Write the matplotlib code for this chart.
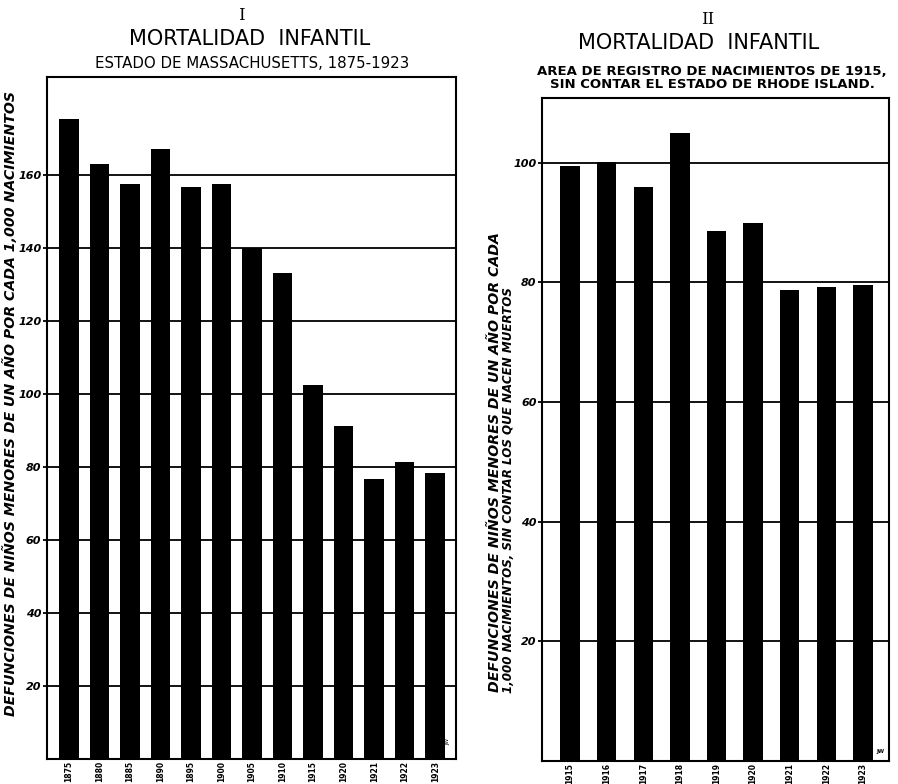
import matplotlib
matplotlib.use("Agg")
import matplotlib.pyplot as plt

# Panel I data
years_ma = ["1875", "1880", "1885", "1890", "1895", "1900", "1905",
            "1910", "1915", "1920", "1921", "1922", "1923"]
rates_ma = [175.3, 163.0, 157.5, 167.1, 156.6, 157.5, 140.0,
            133.2, 102.4, 91.2, 76.6, 81.3, 78.2]
yticks_ma = [20, 40, 60, 80, 100, 120, 140, 160]

# Panel II data
years_reg = ["1915", "1916", "1917", "1918", "1919", "1920", "1921", "1922", "1923"]
rates_reg = [99.4, 100.1, 96.0, 105.0, 88.6, 89.9, 78.7, 79.3, 79.5]
yticks_reg = [20, 40, 60, 80, 100]

plt.rcParams['font.family'] = ['DejaVu Sans']

fig = plt.figure(figsize=(8.98, 7.84), dpi=100)
ax1 = fig.add_axes([0.0523, 0.0319, 0.4555, 0.870])
ax2 = fig.add_axes([0.6039, 0.0297, 0.3864, 0.845])


def style(ax, years, rates, yticks, width, xlim, ylim):
    x = list(range(len(years)))
    ax.bar(x, rates, width=width, color='black', zorder=3)
    ax.set_xlim(*xlim)
    ax.set_ylim(*ylim)
    ax.set_yticks(yticks)
    ax.set_yticklabels([str(v) for v in yticks], fontsize=8, style='italic',
                       fontweight='bold')
    ax.set_xticks(x)
    ax.set_xticklabels(years, rotation=90, fontsize=5.5, fontweight='bold')
    ax.tick_params(axis='x', length=0, pad=1.5)
    ax.tick_params(axis='y', length=3, width=1.3, direction='out', pad=1)
    ax.yaxis.grid(True, color='black', linewidth=1.3, zorder=1)
    ax.set_axisbelow(True)
    for s in ax.spines.values():
        s.set_linewidth(1.5)
        s.set_color('black')


style(ax1, years_ma, rates_ma, yticks_ma, 0.64, (-0.72, 12.68), (0, 186.8))
style(ax2, years_reg, rates_reg, yticks_reg, 0.53, (-0.755, 8.717), (0, 110.8))

# Titles panel I
fig.text(241 / 898, 1 - 16 / 784, "I", ha='center', va='center', fontsize=12,
         family='DejaVu Serif')
fig.text(250 / 898, 1 - 39 / 784, "MORTALIDAD  INFANTIL", ha='center', va='center',
         fontsize=15)
fig.text(252 / 898, 1 - 63 / 784, "ESTADO DE MASSACHUSETTS, 1875-1923", ha='center',
         va='center', fontsize=10.8)

# Titles panel II
fig.text(708 / 898, 1 - 20 / 784, "II", ha='center', va='center', fontsize=12,
         family='DejaVu Serif')
fig.text(699 / 898, 1 - 43 / 784, "MORTALIDAD  INFANTIL", ha='center', va='center',
         fontsize=15)
fig.text(712 / 898, 1 - 78 / 784,
         "AREA DE REGISTRO DE NACIMIENTOS DE 1915,\nSIN CONTAR EL ESTADO DE RHODE ISLAND.",
         ha='center', va='center', fontsize=9.5, fontweight='bold', linespacing=1.0)

# Y labels
fig.text(11 / 898, 1 - 403 / 784,
         "DEFUNCIONES DE NIÑOS MENORES DE UN AÑO POR CADA 1,000 NACIMIENTOS",
         rotation=90, ha='center', va='center', fontsize=10.2, style='italic',
         fontweight='bold')
fig.text(495 / 898, 1 - 462 / 784,
         "DEFUNCIONES DE NIÑOS MENORES DE UN AÑO POR CADA",
         rotation=90, ha='center', va='center', fontsize=10.2, style='italic',
         fontweight='bold')
fig.text(509 / 898, 1 - 490 / 784,
         "1,000 NACIMIENTOS, SIN CONTAR LOS QUE NACEN MUERTOS",
         rotation=90, ha='center', va='center', fontsize=8.6, style='italic',
         fontweight='bold')

# signatures
ax1.text(0.985, 0.02, "JW", transform=ax1.transAxes, rotation=90, fontsize=4,
         ha='right', va='bottom')
ax2.text(0.985, 0.01, "JW", transform=ax2.transAxes, fontsize=4,
         ha='right', va='bottom', fontweight='bold')

fig.savefig("out.png", dpi=100)
